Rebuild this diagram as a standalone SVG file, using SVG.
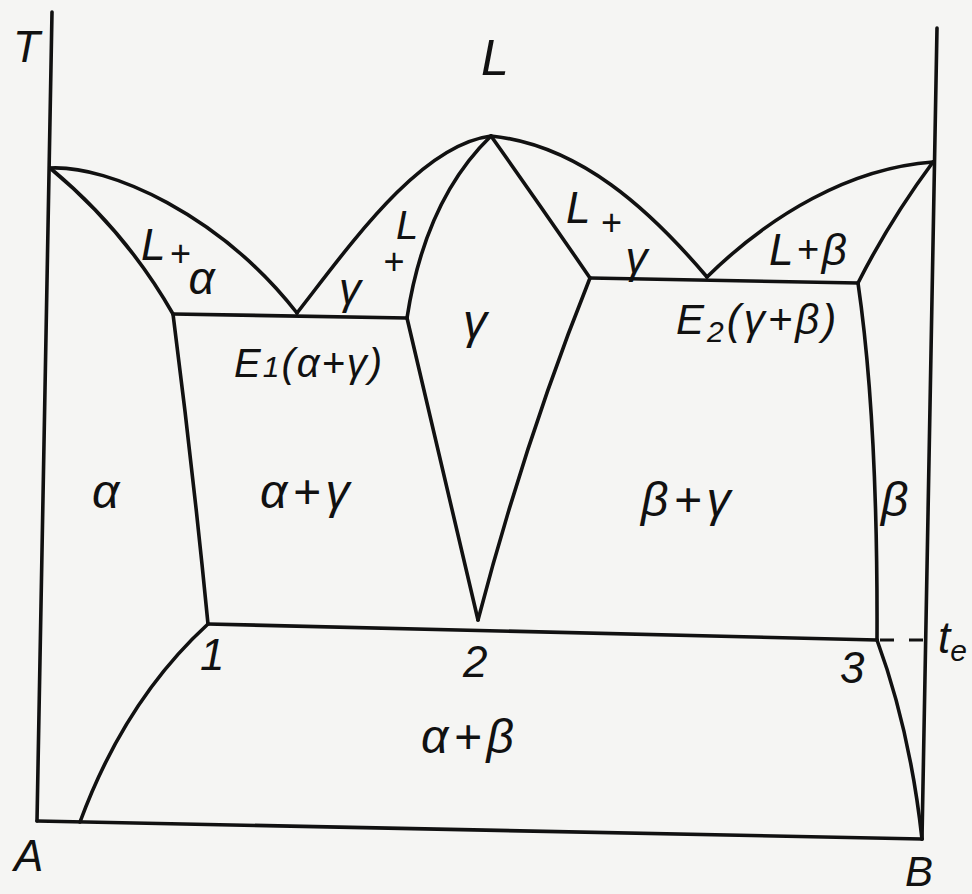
<svg xmlns="http://www.w3.org/2000/svg" width="972" height="894" viewBox="0 0 972 894">
<style>
.ln{fill:none;stroke:#111;stroke-width:3.6;stroke-linecap:round;stroke-linejoin:round}
.dash{fill:none;stroke:#111;stroke-width:3;stroke-dasharray:14 15}
text{font-family:"Liberation Sans",Arial,sans-serif;font-style:italic;fill:#111}
.big{font-size:50px}
.mid{font-size:44px}
.reg{font-size:48px;letter-spacing:5px}
.num{font-size:44px}
</style>
<rect width="972" height="894" fill="#f5f5f3"/>
<g id="axes">
<path class="ln" d="M52,12 L37,821"/>
<path class="ln" d="M37,821 L922,839"/>
<path class="ln" d="M937,28 L922,839"/>
</g>
<g id="curves">
<path class="ln" d="M50,168 C110,165 220,215 297,313"/>
<path class="ln" d="M50,168 Q125,230 173,314"/>
<path class="ln" d="M173,314 L407,318"/>
<path class="ln" d="M297,313 C350,245 420,145 491,136"/>
<path class="ln" d="M407,318 Q425,200 491,136"/>
<path class="ln" d="M407,318 Q440,460 478,620"/>
<path class="ln" d="M478,620 Q525,440 590,278"/>
<path class="ln" d="M491,136 Q540,205 590,278"/>
<path class="ln" d="M491,136 C580,145 650,210 707,277"/>
<path class="ln" d="M590,278 L858,283"/>
<path class="ln" d="M707,277 C770,215 850,168 933,162"/>
<path class="ln" d="M933,162 Q890,220 858,283"/>
<path class="ln" d="M858,283 Q878,420 877,640"/>
<path class="ln" d="M877,640 Q910,730 922,839"/>
<path class="ln" d="M173,314 Q193,470 208,624"/>
<path class="ln" d="M208,624 Q125,700 80,822"/>
<path class="ln" d="M208,624 L877,640"/>
<path class="dash" d="M880,640 L933,640"/>
</g>
<g id="labels">
<text class="mid" x="13" y="62">T</text>
<text class="big" x="481" y="75">L</text>
<text class="mid" x="141" y="260">L<tspan font-size="36" dx="4" dy="6">+</tspan><tspan font-size="46" dx="-2" dy="28">α</tspan></text>
<text class="mid" x="339" y="304">γ<tspan font-size="36" dx="22" dy="-30">+</tspan><tspan font-size="40" dx="-8" dy="-35">L</tspan></text>
<text class="mid" x="566" y="223">L<tspan font-size="36" dx="10" dy="12">+</tspan><tspan dx="4" dy="38">γ</tspan></text>
<text class="mid" x="769" y="265" letter-spacing="3">L<tspan font-size="38" dy="-3">+</tspan><tspan dy="3">β</tspan></text>
<text font-size="40" letter-spacing="2" x="234" y="377">E<tspan font-size="30">1</tspan>(α+γ)</text>
<text font-size="42" letter-spacing="3" x="676" y="334">E<tspan font-size="30" dy="8">2</tspan><tspan dy="-8">(γ+β)</tspan></text>
<text class="reg" x="463" y="338">γ</text>
<text class="reg" x="92" y="508">α</text>
<text class="reg" x="260" y="508">α+γ</text>
<text class="reg" x="641" y="516">β+γ</text>
<text class="reg" x="881" y="516">β</text>
<text class="num" x="200" y="670">1</text>
<text class="num" x="463" y="677">2</text>
<text class="num" x="840" y="683">3</text>
<text class="reg" x="421" y="753">α+β</text>
<text class="mid" x="938" y="653">t<tspan font-size="30" dy="8">e</tspan></text>
<text class="mid" x="14" y="871">A</text>
<text font-size="42" x="905" y="886">B</text>
</g>
</svg>
